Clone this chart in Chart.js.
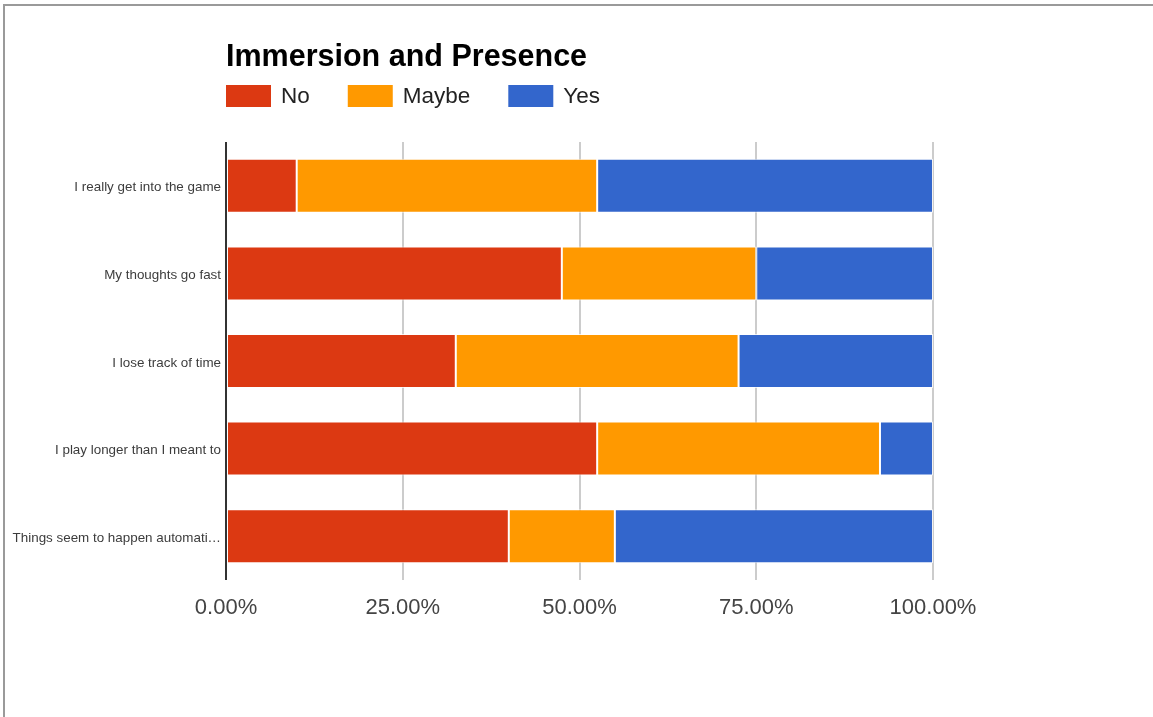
<!DOCTYPE html>
<html>
<head>
<meta charset="utf-8">
<title>Immersion and Presence</title>
<script src="https://cdn.jsdelivr.net/npm/chart.js@4"></script>
<style>
  html, body { margin: 0; padding: 0; background: #fff; }
  .frame {
    position: absolute; left: 3px; top: 4px; right: 0; bottom: 0;
    border-top: 2px solid #9a9a9a; border-left: 2px solid #9a9a9a;
  }
  #immersion-chart { position: absolute; left: 0; top: 0; }
</style>
</head>
<body>
<div class="frame"></div>
<canvas id="immersion-chart" width="1153" height="717"></canvas>
<script>
// Survey statements (y axis)
const statements = [
  'I really get into the game',
  'My thoughts go fast',
  'I lose track of time',
  'I play longer than I meant to',
  'Things seem to happen automatically'
];

// Share of answers per statement, in percent
const noShare = [10, 47.5, 32.5, 52.5, 40];
const maybeShare = [42.5, 27.5, 40, 40, 15];
const yesShare = [47.5, 25, 27.5, 7.5, 45];

// X axis ticks
const percentTicks = [0, 25, 50, 75, 100];

const chartTitle = 'Immersion and Presence';
const fontFamily = '"Liberation Sans", Arial, sans-serif';

// Title and legend sit above the plot, lined up with its left edge
const headerPlugin = {
  id: 'header',
  afterDraw(chart) {
    const c = chart.ctx;
    const left = chart.chartArea.left;
    c.save();
    c.fillStyle = '#000';
    c.font = 'bold 30.5px ' + fontFamily;
    c.textBaseline = 'alphabetic';
    c.textAlign = 'left';
    c.fillText(chartTitle, left, 66);

    c.font = '22.5px ' + fontFamily;
    c.textBaseline = 'middle';
    let x = left;
    chart.data.datasets.forEach(ds => {
      c.fillStyle = ds.backgroundColor;
      c.fillRect(x, 85, 45, 22);
      c.fillStyle = '#222';
      c.fillText(ds.label, x + 55, 97);
      x += 55 + c.measureText(ds.label).width + 38;
    });
    c.restore();
  }
};

const data = {
  labels: statements,
  datasets: [
    { label: 'No', data: noShare, backgroundColor: '#dc3912' },
    { label: 'Maybe', data: maybeShare, backgroundColor: '#ff9900' },
    { label: 'Yes', data: yesShare, backgroundColor: '#3366cc' }
  ].map(ds => Object.assign(ds, {
    borderColor: 'rgba(255, 255, 255, 0.75)',
    borderWidth: 1,
    borderSkipped: false,
    barPercentage: 0.616,
    categoryPercentage: 1
  }))
};

const ctx = document.getElementById('immersion-chart').getContext('2d');

const immersionChart = new Chart(ctx, {
  type: 'bar',
  data: data,
  plugins: [headerPlugin],
  options: {
    indexAxis: 'y',
    responsive: false,
    animation: false,
    layout: {
      padding: { left: 0, right: 220, top: 142, bottom: 87 }
    },
    scales: {
      x: {
        stacked: true,
        min: 0,
        max: 100,
        afterFit: scale => { scale.height = 50; },
        afterBuildTicks: scale => {
          scale.ticks = percentTicks.map(v => ({ value: v }));
        },
        border: { display: false },
        grid: {
          drawTicks: false,
          lineWidth: 2,
          color: c => c.tick && c.tick.value === 0 ? '#333' : '#cccccc'
        },
        ticks: {
          padding: 15,
          color: '#444',
          font: { size: 22, family: fontFamily },
          callback: v => v.toFixed(2) + '%'
        }
      },
      y: {
        stacked: true,
        afterFit: scale => { scale.width = 226; },
        border: { display: false },
        grid: { display: false, drawTicks: false },
        ticks: {
          padding: 5,
          labelOffset: 2,
          color: '#3c3c3c',
          font: { size: 13.4, family: fontFamily },
          callback: function(value) {
            const text = this.getLabelForValue(value);
            return text.length > 30 ? text.slice(0, 30) + '…' : text;
          }
        }
      }
    },
    plugins: {
      legend: { display: false },
      title: { display: false },
      tooltip: {
        callbacks: {
          label: item => `${item.dataset.label}: ${item.raw.toFixed(2)}%`
        }
      }
    }
  }
});
</script>
</body>
</html>
